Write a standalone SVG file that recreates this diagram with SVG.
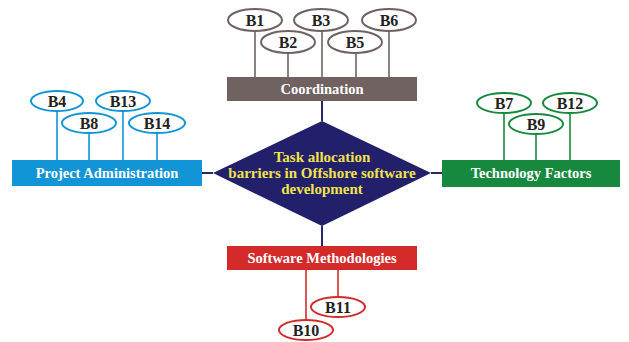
<svg xmlns="http://www.w3.org/2000/svg" width="629" height="342" viewBox="0 0 629 342">
<style>
text{font-family:"Liberation Serif","Times New Roman",serif;font-weight:bold;text-anchor:middle}
.lbl{font-size:16px;fill:#222}
.box{font-size:14.5px;fill:#fff}
.ctr{font-size:15px;fill:#f2e34a}
.e{fill:#fff;stroke-width:2}
.conn{stroke:#27276e;stroke-width:2;fill:none}
.brn{stroke:#6f6260}.blu{stroke:#1195d6}.grn{stroke:#17893f}.red{stroke:#d42a2a}
.ln{stroke-width:1.6;fill:none}
</style>
<rect width="629" height="342" fill="#fff"/>
<g id="connectors">
<line class="conn" x1="322" y1="100" x2="322" y2="121"/>
<line class="conn" x1="322" y1="226" x2="322" y2="247"/>
<line class="conn" x1="202" y1="173" x2="213" y2="173"/>
<line class="conn" x1="431" y1="173" x2="442" y2="173"/>
<g class="ln brn"><line x1="255" y1="31" x2="255" y2="78"/><line x1="288" y1="53" x2="288" y2="78"/><line x1="322" y1="31" x2="322" y2="78"/><line x1="356" y1="53" x2="356" y2="78"/><line x1="389" y1="31" x2="389" y2="78"/></g>
<g class="ln blu"><line x1="57" y1="111" x2="57" y2="161"/><line x1="89" y1="133" x2="89" y2="161"/><line x1="123" y1="111" x2="123" y2="161"/><line x1="157" y1="133" x2="157" y2="161"/></g>
<g class="ln grn"><line x1="504" y1="113" x2="504" y2="161"/><line x1="536" y1="134" x2="536" y2="161"/><line x1="570" y1="113" x2="570" y2="161"/></g>
<g class="ln red"><line x1="306" y1="269" x2="306" y2="320"/><line x1="338" y1="269" x2="338" y2="297"/></g>
</g>
<g id="center">
<polygon points="322,121 431,173 322,226 213,173" fill="#221f6b"/>
<text class="ctr" x="322" y="162">Task allocation</text>
<text class="ctr" x="322" y="178">barriers in Offshore software</text>
<text class="ctr" x="322" y="194">development</text>
</g>
<g id="coordination">
<rect x="227" y="77" width="190" height="24" fill="#6f6260"/>
<text class="box" x="322" y="94">Coordination</text>
</g>
<g id="project-administration">
<rect x="12" y="160" width="190" height="26" fill="#1195d6"/>
<text class="box" x="107" y="178">Project Administration</text>
</g>
<g id="technology-factors">
<rect x="442" y="160" width="178" height="27" fill="#17893f"/>
<text class="box" x="531" y="178">Technology Factors</text>
</g>
<g id="software-methodologies">
<rect x="227" y="246" width="190" height="24" fill="#d42a2a"/>
<text class="box" x="322" y="263">Software Methodologies</text>
</g>
<g id="B1"><ellipse class="e brn" cx="255" cy="20" rx="27" ry="11"/><text class="lbl" x="255" y="25.5">B1</text></g>
<g id="B2"><ellipse class="e brn" cx="288" cy="42" rx="27" ry="11"/><text class="lbl" x="288" y="47.5">B2</text></g>
<g id="B3"><ellipse class="e brn" cx="321" cy="20" rx="27" ry="11"/><text class="lbl" x="321" y="25.5">B3</text></g>
<g id="B5"><ellipse class="e brn" cx="355" cy="42" rx="27" ry="11"/><text class="lbl" x="355" y="47.5">B5</text></g>
<g id="B6"><ellipse class="e brn" cx="389" cy="20" rx="27" ry="11"/><text class="lbl" x="389" y="25.5">B6</text></g>
<g id="B4"><ellipse class="e blu" cx="57" cy="101" rx="26" ry="10"/><text class="lbl" x="57" y="106.5">B4</text></g>
<g id="B8"><ellipse class="e blu" cx="89" cy="123" rx="27" ry="10"/><text class="lbl" x="89" y="128.5">B8</text></g>
<g id="B13"><ellipse class="e blu" cx="123" cy="101" rx="27" ry="10"/><text class="lbl" x="123" y="106.5">B13</text></g>
<g id="B14"><ellipse class="e blu" cx="157" cy="123" rx="28" ry="10"/><text class="lbl" x="157" y="128.5">B14</text></g>
<g id="B7"><ellipse class="e grn" cx="504" cy="103" rx="27" ry="10"/><text class="lbl" x="504" y="108.5">B7</text></g>
<g id="B9"><ellipse class="e grn" cx="536" cy="124" rx="27" ry="10"/><text class="lbl" x="536" y="129.5">B9</text></g>
<g id="B12"><ellipse class="e grn" cx="570" cy="103" rx="27" ry="10"/><text class="lbl" x="570" y="108.5">B12</text></g>
<g id="B11"><ellipse class="e red" cx="338" cy="307" rx="27" ry="10"/><text class="lbl" x="338" y="312.5">B11</text></g>
<g id="B10"><ellipse class="e red" cx="306" cy="330" rx="27" ry="10"/><text class="lbl" x="306" y="335.5">B10</text></g>
</svg>
